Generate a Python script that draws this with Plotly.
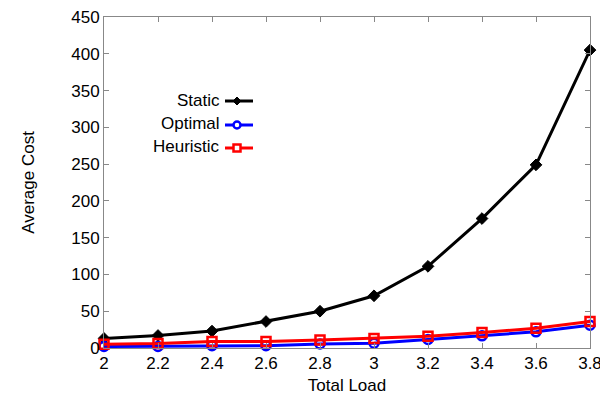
import plotly.graph_objects as go

total_load = [2.0, 2.2, 2.4, 2.6, 2.8, 3.0, 3.2, 3.4, 3.6, 3.8]
static = [13, 17, 23, 36, 50, 71, 111, 176, 249, 405]
optimal = [2, 2, 3, 3, 5.5, 6.5, 11.5, 16.5, 22, 31]
heuristic = [5, 6, 9, 9, 11, 13, 16, 21, 27, 36]
series_names = ["Static", "Optimal", "Heuristic"]
x_ticks = [2, 2.2, 2.4, 2.6, 2.8, 3, 3.2, 3.4, 3.6, 3.8]
x_tick_text = ["2", "2.2", "2.4", "2.6", "2.8", "3", "3.2", "3.4", "3.6", "3.8"]
y_ticks = [0, 50, 100, 150, 200, 250, 300, 350, 400, 450]

font = "Liberation Sans, Arial, sans-serif"
FS = 17
fig = go.Figure()

styles = [
    ("black", "diamond", "black", static),
    ("blue", "circle-open", "blue", optimal),
    ("red", "square-open", "red", heuristic),
]
for name, (col, sym, mcol, vals) in zip(series_names, styles):
    if sym == "diamond":
        mk = dict(symbol=sym, size=9, color=mcol, line=dict(width=1, color=mcol))
    else:
        mk = dict(symbol=sym, size=9, color=mcol, line=dict(width=2.5, color=mcol))
    fig.add_trace(go.Scatter(
        x=total_load, y=vals, name=name, mode="lines+markers",
        line=dict(color=col, width=3), marker=mk,
        cliponaxis=False, showlegend=False,
    ))

# page offset (body margin) of 8px is compensated here
OFF = 8
W, H = 608 - OFF, 398 - OFF
L, R, T, B = 104, 590, 17, 348  # target screen coordinates
def px(x):
    return (x - L) / (R - L)
def py(y):
    return (B - y) / (B - T)

leg_rows = [100, 124, 147]
for (name, (col, sym, mcol, vals)), yy in zip(zip(series_names, styles), leg_rows):
    fig.add_annotation(x=px(222), y=py(yy), xref="paper", yref="paper",
                       text=name, showarrow=False, xanchor="right", yanchor="middle",
                       font=dict(family=font, size=FS, color="black"))
    fig.add_shape(type="line", xref="paper", yref="paper",
                  x0=px(225), x1=px(253), y0=py(yy + 1), y1=py(yy + 1),
                  line=dict(color=col, width=3))
    cx, cy = 237, yy + 1
    if sym == "diamond":
        fig.add_shape(type="path", xref="paper", yref="paper",
                      path=f"M {px(cx-4)} {py(cy)} L {px(cx)} {py(cy-4)} L {px(cx+4)} {py(cy)} L {px(cx)} {py(cy+4)} Z",
                      fillcolor="black", line=dict(color="black", width=1))
    elif sym == "circle-open":
        fig.add_shape(type="circle", xref="paper", yref="paper",
                      x0=px(cx-3.5), x1=px(cx+3.5), y0=py(cy-3.5), y1=py(cy+3.5),
                      fillcolor="white", line=dict(color="blue", width=2.5))
    else:
        fig.add_shape(type="rect", xref="paper", yref="paper",
                      x0=px(cx-3.5), x1=px(cx+3.5), y0=py(cy-3.5), y1=py(cy+3.5),
                      fillcolor="white", line=dict(color="red", width=2.5))

fig.update_layout(
    width=W, height=H,
    margin=dict(l=L - OFF, r=608 - R, t=T - OFF, b=398 - B, autoexpand=False),
    plot_bgcolor="white", paper_bgcolor="white",
    font=dict(family=font, size=FS, color="black"),
    showlegend=False,
)
fig.update_xaxes(range=[2, 3.8], tickvals=x_ticks, ticktext=x_tick_text,
                 ticks="inside", ticklen=5, tickcolor="#888", mirror="ticks",
                 showline=True, linecolor="#888", linewidth=1, showgrid=False,
                 zeroline=False, automargin=False, ticklabeloverflow="allow",
                 title=dict(text="Total Load", font=dict(family=font, size=FS), standoff=6),
                 tickfont=dict(family=font, size=FS))
fig.update_yaxes(range=[0, 450], tickvals=y_ticks,
                 ticks="inside", ticklen=5, tickcolor="#888", mirror="ticks",
                 showline=True, linecolor="#888", linewidth=1, showgrid=False,
                 zeroline=False, automargin=False, ticklabeloverflow="allow",
                 title=dict(text="Average Cost", font=dict(family=font, size=FS), standoff=32),
                 tickfont=dict(family=font, size=FS))

fig.write_html("out.html")
